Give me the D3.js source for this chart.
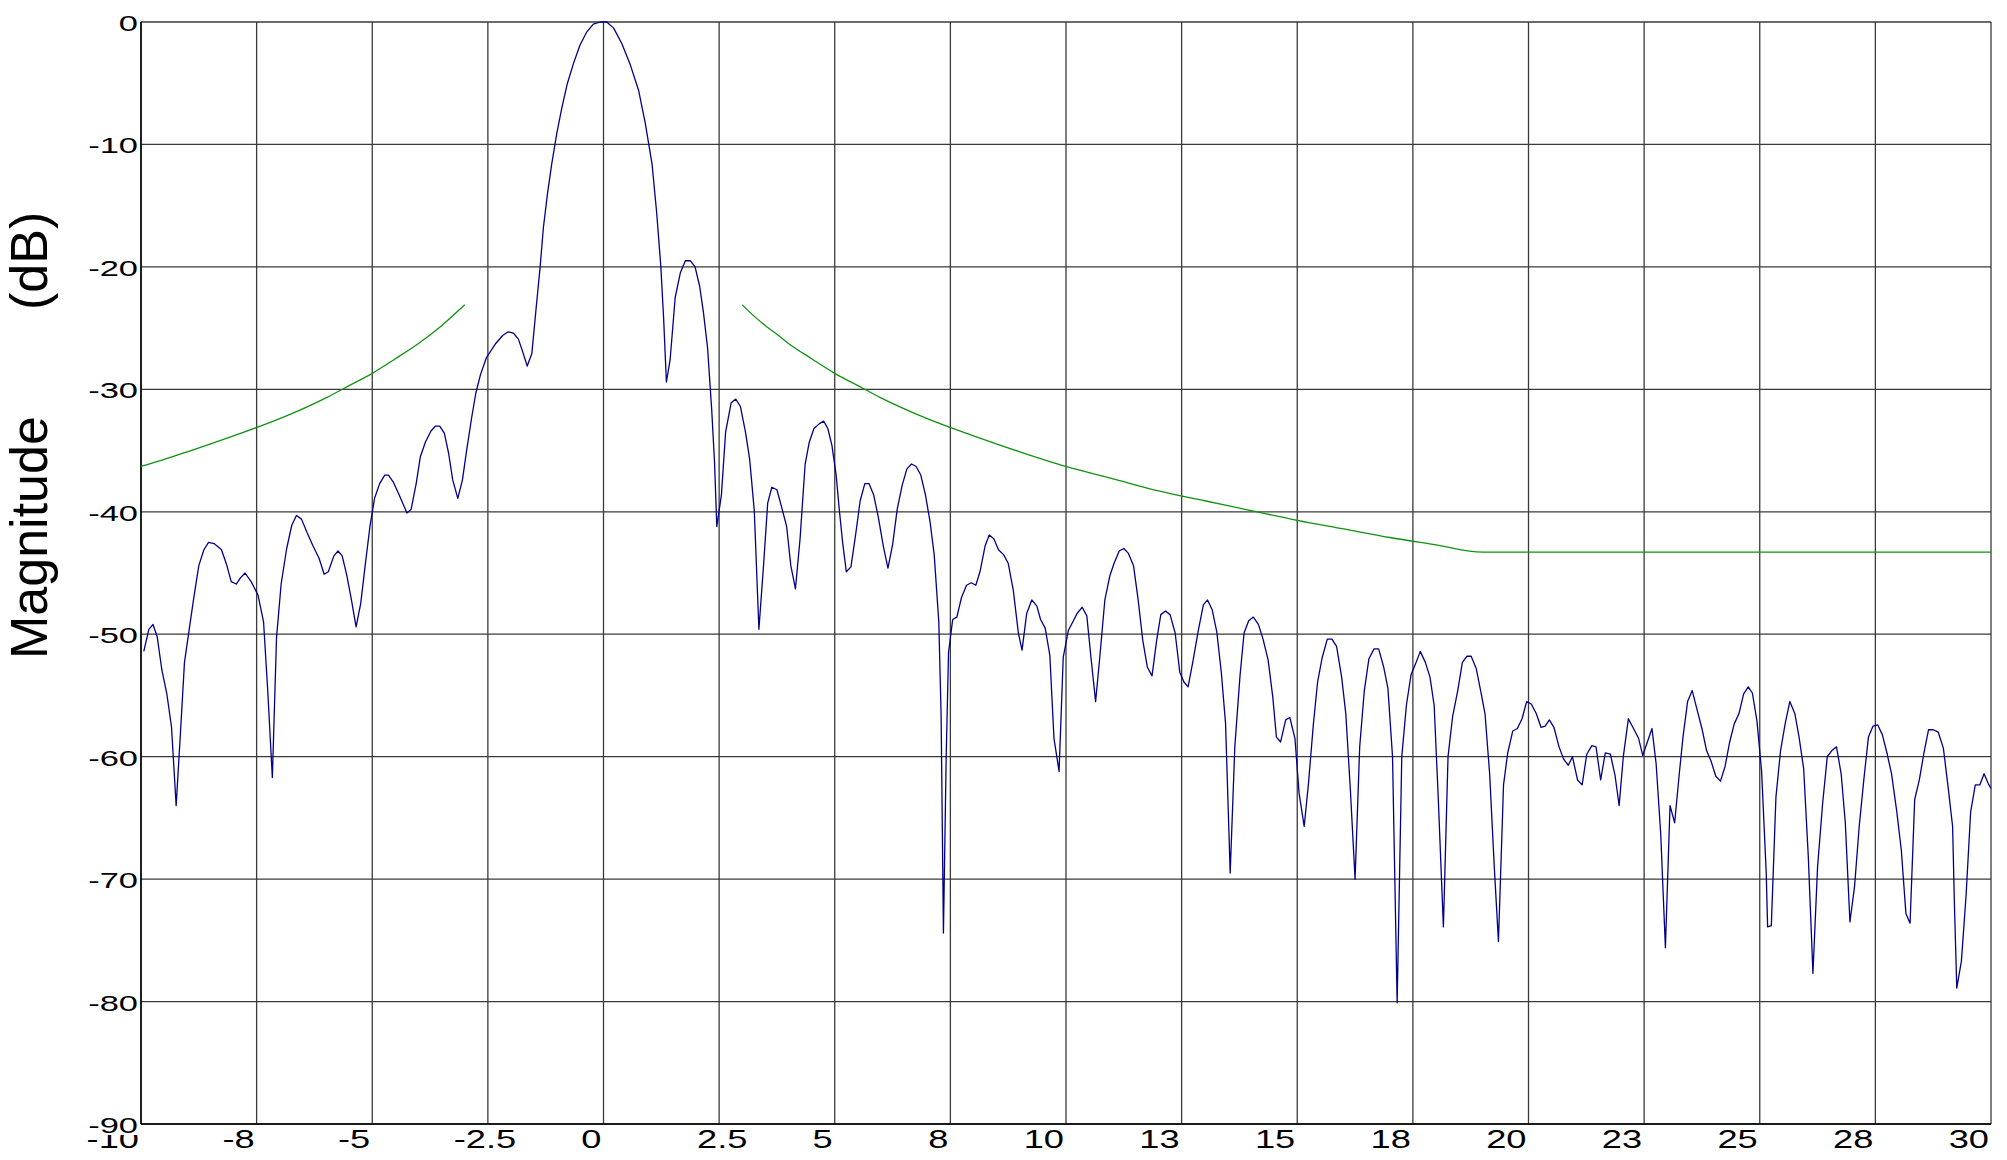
<!DOCTYPE html>
<html>
<head>
<meta charset="utf-8">
<script src="https://cdn.jsdelivr.net/npm/d3@7"></script>
<style>
    body { margin: 0; background: #fff; }
    svg text { font-family: "Liberation Sans", Arial, sans-serif; fill: #000; }
</style>
</head>
<body>
<svg id="chart" width="2007" height="1160"></svg>
<script>
// x ticks every 2.5, labels are rounded the way the original plot shows them
const xTicks = [-10, -7.5, -5, -2.5, 0, 2.5, 5, 7.5, 10, 12.5, 15, 17.5, 20, 22.5, 25, 27.5, 30];
const xTickLabels = ['-10', '-8', '-5', '-2.5', '0', '2.5', '5', '8', '10', '13', '15', '18', '20', '23', '25', '28', '30'];
const yTicks = [0, -10, -20, -30, -40, -50, -60, -70, -80, -90];

// measured spectrum (dB)
const freq = [
    -9.94, -9.83, -9.74, -9.65, -9.55, -9.44, -9.34, -9.24, -9.14, -9.06, -8.95, -8.85, -8.75, -8.64, -8.54, -8.42,
    -8.26, -8.15, -8.05, -7.94, -7.85, -7.75, -7.62, -7.47, -7.35, -7.26, -7.16, -7.07, -6.97, -6.85, -6.74, -6.64,
    -6.53, -6.41, -6.28, -6.15, -6.04, -5.95, -5.83, -5.74, -5.65, -5.55, -5.45, -5.35, -5.25, -5.15, -5.05, -4.95,
    -4.84, -4.73, -4.65, -4.54, -4.41, -4.25, -4.16, -4.05, -3.96, -3.85, -3.73, -3.63, -3.54, -3.44, -3.35, -3.26,
    -3.15, -3.05, -2.96, -2.85, -2.76, -2.66, -2.53, -2.34, -2.18, -2.06, -1.95, -1.84, -1.75, -1.65, -1.55, -1.46,
    -1.37, -1.30, -1.21, -1.12, -1.01, -0.90, -0.78, -0.65, -0.51, -0.36, -0.22, -0.07, 0.07, 0.22, 0.40, 0.58,
    0.76, 0.90, 1.05, 1.15, 1.24, 1.30, 1.36, 1.44, 1.55, 1.66, 1.77, 1.88, 1.98, 2.08, 2.16, 2.25,
    2.34, 2.40, 2.45, 2.55, 2.64, 2.76, 2.86, 2.96, 3.07, 3.16, 3.26, 3.36, 3.46, 3.55, 3.64, 3.75,
    3.85, 3.96, 4.05, 4.15, 4.25, 4.36, 4.45, 4.55, 4.67, 4.76, 4.85, 4.94, 5.03, 5.10, 5.17, 5.25,
    5.35, 5.45, 5.55, 5.65, 5.74, 5.84, 5.94, 6.05, 6.15, 6.25, 6.35, 6.46, 6.56, 6.66, 6.76, 6.86,
    6.96, 7.06, 7.15, 7.25, 7.30, 7.35, 7.41, 7.46, 7.55, 7.64, 7.74, 7.85, 7.95, 8.05, 8.14, 8.25,
    8.34, 8.44, 8.54, 8.65, 8.75, 8.86, 8.97, 9.05, 9.15, 9.26, 9.37, 9.45, 9.55, 9.65, 9.74, 9.85,
    9.94, 10.05, 10.16, 10.24, 10.35, 10.45, 10.54, 10.64, 10.73, 10.84, 10.95, 11.04, 11.15, 11.25, 11.35, 11.46,
    11.56, 11.66, 11.76, 11.86, 11.96, 12.05, 12.15, 12.25, 12.36, 12.46, 12.55, 12.64, 12.75, 12.86, 12.97, 13.06,
    13.16, 13.26, 13.36, 13.45, 13.55, 13.65, 13.76, 13.85, 13.95, 14.05, 14.16, 14.26, 14.37, 14.47, 14.55, 14.64,
    14.75, 14.84, 14.95, 15.04, 15.15, 15.24, 15.35, 15.44, 15.54, 15.65, 15.75, 15.85, 15.96, 16.05, 16.15, 16.25,
    16.35, 16.45, 16.55, 16.66, 16.76, 16.87, 16.96, 17.06, 17.16, 17.26, 17.36, 17.46, 17.56, 17.66, 17.77, 17.87,
    17.96, 18.05, 18.16, 18.26, 18.36, 18.47, 18.57, 18.67, 18.76, 18.87, 18.97, 19.06, 19.16, 19.26, 19.35, 19.46,
    19.55, 19.66, 19.76, 19.86, 19.96, 20.06, 20.17, 20.27, 20.36, 20.45, 20.55, 20.66, 20.76, 20.86, 20.95, 21.06,
    21.16, 21.26, 21.37, 21.46, 21.56, 21.66, 21.77, 21.87, 21.96, 22.05, 22.16, 22.27, 22.38, 22.47, 22.57, 22.67,
    22.76, 22.86, 22.96, 23.06, 23.16, 23.26, 23.34, 23.44, 23.54, 23.64, 23.75, 23.85, 23.95, 24.05, 24.15, 24.25,
    24.35, 24.45, 24.55, 24.65, 24.75, 24.84, 24.94, 25.04, 25.14, 25.17, 25.25, 25.35, 25.45, 25.55, 25.65, 25.76,
    25.85, 25.95, 26.05, 26.15, 26.25, 26.36, 26.46, 26.56, 26.66, 26.76, 26.85, 26.95, 27.05, 27.15, 27.25, 27.35,
    27.45, 27.55, 27.65, 27.75, 27.85, 27.96, 28.06, 28.16, 28.25, 28.35, 28.45, 28.55, 28.65, 28.75, 28.86, 28.97,
    29.07, 29.17, 29.21, 29.26, 29.36, 29.46, 29.56, 29.66, 29.76, 29.85, 29.94, 30.0
];
const magnitude = [
    -51.4, -49.6, -49.2, -50.2, -52.9, -54.9, -57.6, -64.0, -57.6, -52.3, -49.4, -46.8, -44.4, -43.1, -42.5, -42.6,
    -43.1, -44.3, -45.7, -45.9, -45.4, -45.0, -45.7, -46.8, -49.0, -54.6, -61.7, -50.3, -45.9, -43.0, -41.1, -40.3,
    -40.6, -41.7, -42.8, -43.8, -45.1, -44.9, -43.6, -43.2, -43.6, -45.2, -47.2, -49.4, -47.5, -44.3, -41.2, -38.9,
    -37.7, -37.0, -37.0, -37.6, -38.7, -40.1, -39.8, -37.7, -35.5, -34.3, -33.4, -33.0, -33.0, -33.6, -35.2, -37.4,
    -38.9, -37.4, -35.0, -32.3, -30.3, -28.8, -27.4, -26.3, -25.6, -25.3, -25.4, -25.9, -26.9, -28.1, -27.1, -23.5,
    -20.0, -16.8, -14.0, -11.6, -9.1, -7.0, -5.0, -3.4, -1.9, -0.8, -0.17, 0, 0, -0.5, -1.8, -3.5,
    -5.6, -8.2, -11.6, -15.6, -20.0, -24.2, -29.4, -27.6, -22.5, -20.5, -19.5, -19.5, -20.0, -21.6, -23.7, -26.6,
    -31.7, -35.9, -41.2, -38.6, -33.5, -31.1, -30.8, -31.4, -33.5, -35.7, -39.9, -49.6, -44.4, -39.3, -38.0, -38.2,
    -39.6, -41.2, -44.4, -46.3, -42.2, -36.1, -34.3, -33.2, -32.8, -32.6, -33.2, -34.6, -37.0, -39.9, -42.5, -44.9,
    -44.5, -41.9, -39.1, -37.7, -37.7, -38.6, -40.4, -42.8, -44.6, -42.7, -39.8, -37.8, -36.5, -36.1, -36.3, -37.0,
    -38.6, -40.8, -43.5, -49.0, -56.7, -74.4, -59.9, -51.5, -48.8, -48.6, -47.0, -46.0, -45.8, -46.0, -44.9, -42.8,
    -41.9, -42.2, -43.1, -43.5, -44.2, -46.4, -49.9, -51.3, -48.3, -47.2, -47.7, -48.8, -49.5, -51.7, -58.5, -61.2,
    -51.9, -49.7, -48.9, -48.3, -47.8, -48.5, -51.9, -55.5, -51.9, -47.2, -45.2, -44.2, -43.2, -43.0, -43.4, -44.4,
    -47.2, -50.5, -52.7, -53.4, -50.5, -48.4, -48.1, -48.4, -49.9, -53.1, -53.9, -54.3, -52.1, -49.7, -47.6, -47.2,
    -48.0, -49.8, -53.2, -57.3, -69.5, -59.2, -53.5, -49.9, -48.9, -48.6, -49.2, -50.4, -52.1, -55.1, -58.4, -58.8,
    -57.0, -56.8, -58.5, -63.0, -65.7, -62.3, -57.3, -53.9, -51.9, -50.4, -50.4, -51.0, -53.5, -56.5, -62.8, -70.0,
    -59.2, -54.6, -52.0, -51.2, -51.2, -52.7, -54.4, -60.0, -80.1, -60.0, -55.8, -53.3, -52.4, -51.4, -52.3, -53.5,
    -55.8, -63.5, -73.9, -60.0, -56.7, -54.6, -52.3, -51.8, -51.8, -52.8, -54.7, -56.5, -61.4, -69.0, -75.1, -62.3,
    -59.7, -57.9, -57.7, -56.9, -55.5, -55.7, -56.5, -57.6, -57.5, -57.0, -57.6, -59.2, -60.2, -60.7, -60.0, -61.9,
    -62.3, -59.8, -59.1, -59.2, -61.9, -59.7, -59.8, -61.5, -64.0, -60.0, -56.9, -57.7, -58.5, -59.9, -58.8, -57.7,
    -60.6, -66.4, -75.6, -64.0, -65.4, -61.4, -58.4, -55.5, -54.6, -56.1, -57.7, -59.5, -60.4, -61.6, -62.0, -60.8,
    -58.8, -57.3, -56.5, -54.9, -54.3, -54.8, -57.1, -61.2, -69.5, -73.9, -73.8, -63.3, -59.5, -57.3, -55.5, -56.5,
    -58.4, -61.0, -68.2, -77.7, -69.0, -63.8, -60.0, -59.5, -59.2, -61.4, -65.4, -73.5, -70.6, -65.7, -61.9, -58.4,
    -57.5, -57.4, -58.2, -59.7, -61.4, -64.4, -67.6, -72.8, -73.6, -63.5, -61.9, -59.7, -57.8, -57.8, -58.0, -59.3,
    -62.4, -65.7, -72.2, -78.9, -76.7, -71.4, -64.5, -62.3, -62.3, -61.4, -62.2, -62.6
];

// limit mask (green), two pieces
const maskLeftFreq = [-10, -9, -8, -7, -6, -5.5, -5, -4.5, -4, -3.5, -3];
const maskLeftDb = [-36.3, -35.1, -33.8, -32.4, -30.7, -29.7, -28.7, -27.5, -26.25, -24.8, -23.1];
const maskRightFreq = [3, 3.25, 3.5, 3.75, 4, 4.5, 5, 5.5, 6, 7, 8, 9, 10, 11, 12, 13, 14, 15, 16, 17, 18, 19, 30];
const maskRightDb = [-23.1, -24.0, -24.8, -25.5, -26.25, -27.5, -28.7, -29.7, -30.7, -32.4, -33.8, -35.1, -36.3,
    -37.3, -38.3, -39.1, -39.9, -40.7, -41.4, -42.1, -42.7, -43.3, -43.3];

const svg = d3.select('#chart');
const plotLeft = 141, plotRight = 1991, plotTop = 22, plotBottom = 1124;
const xLabelStretch = 1.45, xLabelSize = 25;

const x = d3.scaleLinear().domain([-10, 30]).range([plotLeft, plotRight]);
const y = d3.scaleLinear().domain([-90, 0]).range([plotBottom, plotTop]);

svg.append('rect').attr('width', 2007).attr('height', 1160).attr('fill', '#fff');

// grid
svg.append('g')
    .selectAll('line')
    .data(yTicks)
    .enter()
    .append('line')
    .attr('x1', plotLeft)
    .attr('x2', plotRight)
    .attr('y1', d => y(d))
    .attr('y2', d => y(d))
    .attr('stroke', '#3a3a3a')
    .attr('stroke-width', 1.3);

svg.append('g')
    .selectAll('line')
    .data(xTicks)
    .enter()
    .append('line')
    .attr('x1', d => x(d))
    .attr('x2', d => x(d))
    .attr('y1', plotTop)
    .attr('y2', plotBottom)
    .attr('stroke', '#3a3a3a')
    .attr('stroke-width', 1.3);

// frame, left and bottom are solid black
svg.append('line').attr('x1', plotLeft).attr('x2', plotLeft).attr('y1', plotTop).attr('y2', plotBottom)
    .attr('stroke', '#000').attr('stroke-width', 1.5);
svg.append('line').attr('x1', plotLeft).attr('x2', plotRight).attr('y1', plotBottom).attr('y2', plotBottom)
    .attr('stroke', '#000').attr('stroke-width', 1.5);

// curves
const line = d3.line()
    .x(d => x(d[0]))
    .y(d => y(d[1]));

const spectrum = d3.zip(freq, magnitude);
svg.append('path')
    .datum(spectrum)
    .attr('d', line)
    .attr('fill', 'none')
    .attr('stroke', '#00008b')
    .attr('stroke-width', 1.3)
    .attr('stroke-linejoin', 'round');

const maskLine = d3.line()
    .x(d => x(d[0]))
    .y(d => y(d[1]))
    .curve(d3.curveMonotoneX);

[d3.zip(maskLeftFreq, maskLeftDb), d3.zip(maskRightFreq, maskRightDb)].forEach(seg => {
    svg.append('path')
        .datum(seg)
        .attr('d', maskLine)
        .attr('fill', 'none')
        .attr('stroke', '#119111')
        .attr('stroke-width', 1.3);
});

// width of a bit of text at the x label size
function textWidth(str) {
    const t = svg.append('text').attr('font-size', xLabelSize).text(str);
    const w = t.node().getComputedTextLength();
    t.remove();
    return w;
}

// x tick labels: the integer part ends at the grid line, a ".5" hangs past it
svg.append('g')
    .selectAll('g')
    .data(xTicks)
    .enter()
    .append('g')
    .attr('transform', (d, i) => {
        const label = xTickLabels[i];
        const dot = label.indexOf('.');
        const shift = dot >= 0 ? textWidth(label.slice(dot)) * xLabelStretch : 0;
        return `translate(${x(d) - 2 + shift},1148) scale(${xLabelStretch},1)`;
    })
    .append('text')
    .attr('text-anchor', 'end')
    .attr('font-size', xLabelSize)
    .text((d, i) => xTickLabels[i]);

// y tick labels, each on a white box (the -90 box hides the top of "-10")
const yLabels = svg.append('g')
    .selectAll('g')
    .data(yTicks)
    .enter()
    .append('g')
    .attr('transform', d => `translate(138,${y(d) + 9}) scale(1.5,1)`);

yLabels.append('rect')
    .attr('fill', '#fff');

yLabels.append('text')
    .attr('text-anchor', 'end')
    .attr('font-size', 23)
    .text(d => d);

yLabels.each(function() {
    const g = d3.select(this);
    const box = g.select('text').node().getBBox();
    g.select('rect')
        .attr('x', box.x - 1)
        .attr('y', -19)
        .attr('width', box.width + 2)
        .attr('height', 21);
});

// axis title
svg.append('text')
    .attr('transform', 'translate(47,659) rotate(-90)')
    .attr('font-size', 52)
    .text('Magnitude');

svg.append('text')
    .attr('transform', 'translate(47,310) rotate(-90)')
    .attr('font-size', 52)
    .text('(dB)');
</script>
</body>
</html>
